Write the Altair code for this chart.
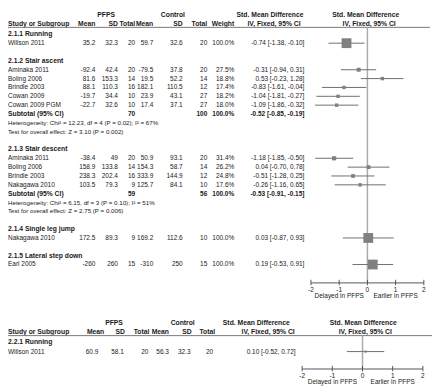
import altair as alt
import pandas as pd

FONT = "Liberation Sans"
TXT = "#1a1a1a"
BODY = 6.6
HEAD = 6.9

# ---------------- data: analysis 2.1 ----------------
studies = ["Willson 2011", "Aminaka 2011", "Boling 2006", "Brindle 2003", "Cowan 2009",
           "Cowan 2009 PGM", "Aminaka 2011", "Boling 2006", "Brindle 2003", "Nakagawa 2010",
           "Nakagawa 2010", "Earl 2005"]
study_rows = [3, 6, 7, 8, 9, 10, 16, 17, 18, 19, 25, 28]
pfps_mean = [35.2, -92.4, 81.6, 88.1, -19.7, -22.7, -38.4, 158.9, 238.3, 103.5, 172.5, -260]
pfps_sd = [32.3, 42.4, 153.3, 110.3, 34.4, 32.6, 49, 133.8, 202.4, 79.3, 89.3, 260]
pfps_n = [20, 20, 14, 16, 10, 10, 20, 14, 16, 9, 9, 15]
ctrl_mean = [59.7, -79.5, 19.5, 182.1, 23.9, 17.4, 50.9, 154.3, 333.9, 125.7, 169.2, -310]
ctrl_sd = [32.6, 37.8, 52.2, 110.5, 43.1, 37.1, 93.1, 58.7, 144.9, 84.1, 112.6, 250]
ctrl_n = [20, 20, 14, 12, 27, 27, 20, 14, 12, 10, 10, 15]
weight = [100.0, 27.5, 18.8, 17.4, 18.2, 18.0, 31.4, 26.2, 24.8, 17.6, 100.0, 100.0]
smd = [-0.74, -0.31, 0.53, -0.83, -1.04, -1.09, -1.18, 0.04, -0.51, -0.26, 0.03, 0.19]
ci_lo = [-1.38, -0.94, -0.23, -1.61, -1.81, -1.86, -1.85, -0.70, -1.28, -1.16, -0.87, -0.53]
ci_hi = [-0.10, 0.31, 1.28, -0.04, -0.27, -0.32, -0.50, 0.78, 0.25, 0.65, 0.93, 0.91]

group_labels = ["2.1.1 Running", "2.1.2 Stair ascent", "2.1.3 Stair descent",
                "2.1.4 Single leg jump", "2.1.5 Lateral step down"]
group_rows = [2, 5, 15, 24, 27]

sub_rows = [11, 20]
sub_pfps_n = [70, 59]
sub_ctrl_n = [100, 56]
sub_weight = [100.0, 100.0]
sub_smd = [-0.52, -0.53]
sub_lo = [-0.85, -0.91]
sub_hi = [-0.19, -0.15]

het_rows = [12, 13, 21, 22]
het_texts = ["Heterogeneity: Chi² = 12.23, df = 4 (P = 0.02); I² = 67%",
             "Test for overall effect: Z = 3.10 (P = 0.002)",
             "Heterogeneity: Chi² = 6.15, df = 3 (P = 0.10); I² = 51%",
             "Test for overall effect: Z = 2.75 (P = 0.006)"]

# ---------------- data: analysis 2.2 ----------------
b_group_labels = ["2.2.1 Running"]
b_group_rows = [0]
b_studies = ["Willson 2011"]
b_rows = [1]
b_pfps_mean = [60.9]
b_pfps_sd = [58.1]
b_pfps_n = [20]
b_ctrl_mean = [56.3]
b_ctrl_sd = [32.3]
b_ctrl_n = [20]
b_smd = [0.10]
b_lo = [-0.52]
b_hi = [0.72]

tick_values = [-2, -1, 0, 1, 2]
caption_pos = [-1, 1]
caption_text = ["Delayed in PFPS", "Earlier in PFPS"]


# ---------------- helpers ----------------
def fmt(v):
    v = float(v)
    return str(int(v)) if v.is_integer() else f"{v}"


def px(x):
    return x - 8


def py(y):
    return 3 + (y - 3.5) * 0.9855


LEFT = 8

xs_top = alt.Scale(domain=[-2, 2], range=[px(316.7), px(431.7)], nice=False, zero=False)
ys_top = alt.Scale(domain=[2, 28], range=[py(24), py(262)], nice=False, zero=False)
xs_bot = alt.Scale(domain=[-2, 2], range=[px(307.7), px(430.7)], nice=False, zero=False)
ys_bot = alt.Scale(domain=[0, 1], range=[py(342), py(352)], nice=False, zero=False)

ONE = pd.DataFrame({"k": [0]})

top_df = pd.DataFrame({
    "row": study_rows,
    "study": studies,
    "pm": [fmt(v) for v in pfps_mean],
    "psd": [fmt(v) for v in pfps_sd],
    "pn": [fmt(v) for v in pfps_n],
    "cm": [fmt(v) for v in ctrl_mean],
    "csd": [fmt(v) for v in ctrl_sd],
    "cn": [fmt(v) for v in ctrl_n],
    "w": [f"{w:.1f}%" for w in weight],
    "ci": [f"{e:.2f} [{l:.2f}, {h:.2f}]" for e, l, h in zip(smd, ci_lo, ci_hi)],
    "weight": weight,
    "smd": smd,
    "lo": ci_lo,
    "hi": ci_hi,
})

grp_df = pd.DataFrame({"row": group_rows, "label": group_labels})

sub_df = pd.DataFrame({
    "row": sub_rows,
    "label": ["Subtotal (95% CI)"] * len(sub_rows),
    "pn": [fmt(v) for v in sub_pfps_n],
    "cn": [fmt(v) for v in sub_ctrl_n],
    "w": [f"{w:.1f}%" for w in sub_weight],
    "ci": [f"{e:.2f} [{l:.2f}, {h:.2f}]" for e, l, h in zip(sub_smd, sub_lo, sub_hi)],
})

H = 0.42  # diamond half height in rows
dia_rows = []
for g, (r, e, l, h) in enumerate(zip(sub_rows, sub_smd, sub_lo, sub_hi)):
    dia_rows.append({"g": g, "o": 0, "x": l, "y1": r, "y2": r})
    dia_rows.append({"g": g, "o": 1, "x": e, "y1": r - H, "y2": r + H})
    dia_rows.append({"g": g, "o": 2, "x": h, "y1": r, "y2": r})
dia_df = pd.DataFrame(dia_rows)

het_df = pd.DataFrame({"row": het_rows, "label": het_texts})

bot_df = pd.DataFrame({
    "row": b_rows,
    "study": b_studies,
    "pm": [fmt(v) for v in b_pfps_mean],
    "psd": [fmt(v) for v in b_pfps_sd],
    "pn": [fmt(v) for v in b_pfps_n],
    "cm": [fmt(v) for v in b_ctrl_mean],
    "csd": [fmt(v) for v in b_ctrl_sd],
    "cn": [fmt(v) for v in b_ctrl_n],
    "ci": [f"{e:.2f} [{l:.2f}, {h:.2f}]" for e, l, h in zip(b_smd, b_lo, b_hi)],
    "smd": b_smd,
    "lo": b_lo,
    "hi": b_hi,
})
bgrp_df = pd.DataFrame({"row": b_group_rows, "label": b_group_labels})

ticks_df = pd.DataFrame({"v": tick_values, "lab": [str(v) for v in tick_values]})
cap_df = pd.DataFrame({"v": caption_pos, "lab": caption_text})
zero_df = pd.DataFrame({"v": [0]})
span_df = pd.DataFrame({"a": [tick_values[0]], "b": [tick_values[-1]]})


def tcol(df, field, xref, yscale, align="right", bold=False, size=BODY):
    return alt.Chart(df).mark_text(
        align=align, baseline="middle", font=FONT, fontSize=size,
        fontWeight="bold" if bold else "normal", color=TXT
    ).encode(
        x=alt.value(px(xref)),
        y=alt.Y("row:Q", scale=yscale, axis=None),
        text=alt.Text(f"{field}:N"),
    )


def lab(txt, xref, yref, align="center", bold=True, size=HEAD):
    return alt.Chart(ONE).mark_text(
        align=align, baseline="middle", font=FONT, fontSize=size,
        fontWeight="bold" if bold else "normal", color=TXT
    ).encode(x=alt.value(px(xref)), y=alt.value(py(yref)), text=alt.value(txt))


def hline(x1, x2, yref, color="#777", w=1.0):
    return alt.Chart(ONE).mark_rule(color=color, strokeWidth=w).encode(
        x=alt.value(px(x1)), x2=alt.value(px(x2)), y=alt.value(py(yref)))


def forest_axis(xs, y_axis, y_tick1, y_tick2, y_lab, y_cap):
    axis_line = alt.Chart(span_df).mark_rule(color="#555", strokeWidth=1).encode(
        x=alt.X("a:Q", scale=xs, axis=None), x2="b:Q", y=alt.value(py(y_axis)))
    ticks = alt.Chart(ticks_df).mark_rule(color="#555", strokeWidth=1).encode(
        x=alt.X("v:Q", scale=xs, axis=None), y=alt.value(py(y_tick1)), y2=alt.value(py(y_tick2)))
    tlab = alt.Chart(ticks_df).mark_text(
        align="center", baseline="middle", font=FONT, fontSize=BODY, color=TXT
    ).encode(x=alt.X("v:Q", scale=xs, axis=None), y=alt.value(py(y_lab)), text="lab:N")
    caps = alt.Chart(cap_df).mark_text(
        align="center", baseline="middle", font=FONT, fontSize=BODY, color=TXT
    ).encode(x=alt.X("v:Q", scale=xs, axis=None), y=alt.value(py(y_cap)), text="lab:N")
    return [axis_line, ticks, tlab, caps]


layers = []

# ---------- top analysis ----------
layers += [
    lab("PFPS", 108, 4),
    lab("Control", 176, 4),
    lab("Std. Mean Difference", 275, 4),
    lab("Std. Mean Difference", 372.5, 4),
    lab("Study or Subgroup", LEFT, 13, align="left"),
    lab("Mean", 97, 13, align="right"),
    lab("SD", 120, 13, align="right"),
    lab("Total", 137.5, 13, align="right"),
    lab("Mean", 156, 13, align="right"),
    lab("SD", 186, 13, align="right"),
    lab("Total", 211, 13, align="right"),
    lab("Weight", 238.5, 13, align="right"),
    lab("IV, Fixed, 95% CI", 279, 13),
    lab("IV, Fixed, 95% CI", 376, 13),
    hline(LEFT - 2, 438, 16.8),
]

layers.append(
    alt.Chart(zero_df).mark_rule(color="#aaaaaa", strokeWidth=1.5).encode(
        x=alt.X("v:Q", scale=xs_top, axis=None), y=alt.value(py(16.8)), y2=alt.value(py(281)))
)

layers += [
    tcol(grp_df, "label", LEFT, ys_top, align="left", bold=True, size=HEAD),
    tcol(top_df, "study", LEFT, ys_top, align="left"),
    tcol(top_df, "pm", 97, ys_top),
    tcol(top_df, "psd", 120, ys_top),
    tcol(top_df, "pn", 137.5, ys_top),
    tcol(top_df, "cm", 156, ys_top),
    tcol(top_df, "csd", 186, ys_top),
    tcol(top_df, "cn", 211, ys_top),
    tcol(top_df, "w", 238.5, ys_top),
    tcol(top_df, "ci", 310, ys_top),
    tcol(sub_df, "label", LEFT, ys_top, align="left", bold=True, size=HEAD),
    tcol(sub_df, "pn", 137.5, ys_top, bold=True),
    tcol(sub_df, "cn", 211, ys_top, bold=True),
    tcol(sub_df, "w", 238.5, ys_top, bold=True),
    tcol(sub_df, "ci", 310, ys_top, bold=True),
    tcol(het_df, "label", LEFT, ys_top, align="left", size=6.3),
]

layers.append(
    alt.Chart(top_df).mark_rule(color="#6e6e6e", strokeWidth=1).encode(
        x=alt.X("lo:Q", scale=xs_top, axis=None), x2="hi:Q",
        y=alt.Y("row:Q", scale=ys_top, axis=None))
)
layers.append(
    alt.Chart(top_df).mark_square(color="#808080", opacity=1).encode(
        x=alt.X("smd:Q", scale=xs_top, axis=None),
        y=alt.Y("row:Q", scale=ys_top, axis=None),
        size=alt.Size("weight:Q", scale=alt.Scale(type="pow", exponent=2, domain=[0, 100], range=[9, 100]),
                      legend=None))
)
layers.append(
    alt.Chart(dia_df).mark_area(color="black", orient="vertical", opacity=1).encode(
        x=alt.X("x:Q", scale=xs_top, axis=None),
        y=alt.Y("y1:Q", scale=ys_top, axis=None), y2="y2:Q",
        detail="g:N", order="o:Q")
)
layers += forest_axis(xs_top, 281, 277.8, 283.5, 288, 294.5)

# ---------- bottom analysis ----------
layers += [
    lab("PFPS", 116, 322),
    lab("Control", 186, 322),
    lab("Std. Mean Difference", 261, 322),
    lab("Std. Mean Difference", 370, 322),
    lab("Study or Subgroup", LEFT, 331.5, align="left"),
    lab("Mean", 106, 331.5, align="right"),
    lab("SD", 127, 331.5, align="right"),
    lab("Total", 152, 331.5, align="right"),
    lab("Mean", 172, 331.5, align="right"),
    lab("SD", 195, 331.5, align="right"),
    lab("Total", 219, 331.5, align="right"),
    lab("IV, Fixed, 95% CI", 273, 331.5),
    lab("IV, Fixed, 95% CI", 372, 331.5),
    hline(LEFT - 2, 440, 335.5),
]
layers.append(
    alt.Chart(zero_df).mark_rule(color="#aaaaaa", strokeWidth=1.5).encode(
        x=alt.X("v:Q", scale=xs_bot, axis=None), y=alt.value(py(335.5)), y2=alt.value(py(370)))
)
layers += [
    tcol(bgrp_df, "label", LEFT, ys_bot, align="left", bold=True, size=HEAD),
    tcol(bot_df, "study", LEFT, ys_bot, align="left"),
    tcol(bot_df, "pm", 100, ys_bot),
    tcol(bot_df, "psd", 126, ys_bot),
    tcol(bot_df, "pn", 151, ys_bot),
    tcol(bot_df, "cm", 172, ys_bot),
    tcol(bot_df, "csd", 194, ys_bot),
    tcol(bot_df, "cn", 217, ys_bot),
    tcol(bot_df, "ci", 301, ys_bot),
]
layers.append(
    alt.Chart(bot_df).mark_rule(color="#6e6e6e", strokeWidth=1).encode(
        x=alt.X("lo:Q", scale=xs_bot, axis=None), x2="hi:Q",
        y=alt.Y("row:Q", scale=ys_bot, axis=None))
)
layers.append(
    alt.Chart(bot_df).mark_square(color="#808080", opacity=1, size=5).encode(
        x=alt.X("smd:Q", scale=xs_bot, axis=None),
        y=alt.Y("row:Q", scale=ys_bot, axis=None))
)
layers += forest_axis(xs_bot, 370, 366.8, 372.5, 377, 384)

chart = alt.layer(*layers).resolve_scale(
    x="independent", y="independent", size="independent"
).properties(
    width=432, height=383, padding=0, autosize=alt.AutoSizeParams(type="none"),
    background="white"
).configure_view(stroke=None)

chart.save("out.html", embed_options={"renderer": "svg", "actions": False})
